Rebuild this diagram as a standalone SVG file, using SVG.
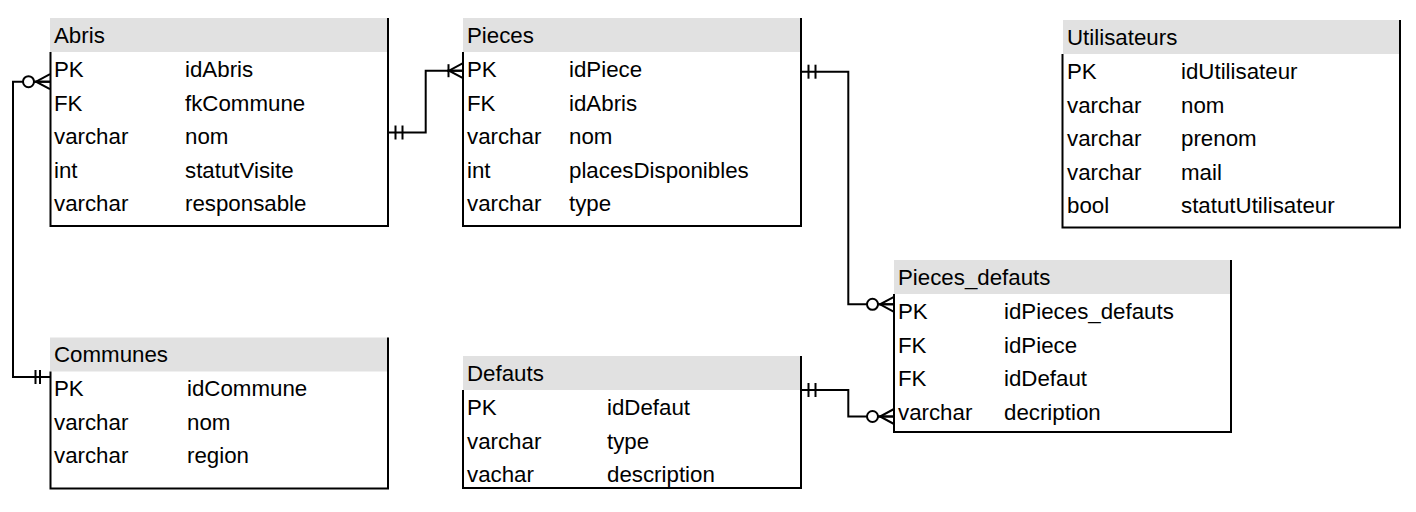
<svg xmlns="http://www.w3.org/2000/svg" xmlns:xlink="http://www.w3.org/1999/xlink" width="1416" height="512" viewBox="0 0 1416 512">
<style>
  .hdr { fill: #e1e1e1; stroke: none; }
  .border { fill: none; stroke: #000; stroke-width: 2; }
  .conn { fill: none; stroke: #000; stroke-width: 2; }
  .mk { fill: none; stroke: #000; stroke-width: 2; }
  .circ { fill: #fff; stroke: #000; stroke-width: 2; }
  text { font-family: "Liberation Sans", Arial, sans-serif; font-size: 22.3px; fill: #000; }
</style>
<defs>
  <!-- markers drawn with the entity edge at x=0, line arriving from the left -->
  <g id="zeroMany">
    <line class="mk" x1="-16" y1="0" x2="0" y2="0"/>
    <path class="mk" d="M0,-7.5 L-14,0 L0,7.5"/>
    <circle class="circ" cx="-21.5" cy="0" r="5.5"/>
  </g>
  <g id="oneMany">
    <line class="mk" x1="-16" y1="0" x2="0" y2="0"/>
    <path class="mk" d="M0,-7.5 L-14,0 L0,7.5"/>
    <line class="mk" x1="-14.5" y1="-6.5" x2="-14.5" y2="6.5"/>
  </g>
  <!-- two ticks, entity edge at x=0, line leaving to the right -->
  <g id="oneOneR">
    <line class="mk" x1="7.5" y1="-7" x2="7.5" y2="7"/>
    <line class="mk" x1="14.5" y1="-7" x2="14.5" y2="7"/>
  </g>
  <g id="oneOneL">
    <line class="mk" x1="-14.5" y1="-7" x2="-14.5" y2="7"/>
    <line class="mk" x1="-10" y1="-7" x2="-10" y2="7"/>
  </g>
</defs>

<g id="connectors">
  <!-- Abris.PK (left) to Communes.PK (left) -->
  <path class="conn" d="M50,81.7 H13 V377 H50"/>
  <use xlink:href="#zeroMany" href="#zeroMany" transform="translate(50,81.7)"/>
  <use xlink:href="#oneOneL" href="#oneOneL" transform="translate(50,377)"/>
  <!-- Abris (right) to Pieces.PK -->
  <path class="conn" d="M388,132.5 H425.7 V70.7 H463"/>
  <use xlink:href="#oneOneR" href="#oneOneR" transform="translate(388,132.5)"/>
  <use xlink:href="#oneMany" href="#oneMany" transform="translate(463,70.7)"/>
  <!-- Pieces (right) to Pieces_defauts.PK -->
  <path class="conn" d="M801,71.7 H848.3 V304.3 H894"/>
  <use xlink:href="#oneOneR" href="#oneOneR" transform="translate(801,71.7)"/>
  <use xlink:href="#zeroMany" href="#zeroMany" transform="translate(894,304.3)"/>
  <!-- Defauts (right) to Pieces_defauts.varchar -->
  <path class="conn" d="M801,390 H848.3 V416.5 H894"/>
  <use xlink:href="#oneOneR" href="#oneOneR" transform="translate(801,390)"/>
  <use xlink:href="#zeroMany" href="#zeroMany" transform="translate(894,416.5)"/>
</g>

<g id="Abris">
  <rect class="hdr" x="50" y="18" width="338" height="34"/>
  <path class="border" d="M388,18 V226 H50.5 V52"/>
  <text x="54" y="43">Abris</text>
  <text x="54" y="77">PK</text><text x="185" y="77">idAbris</text>
  <text x="54" y="110.5">FK</text><text x="185" y="110.5">fkCommune</text>
  <text x="54" y="144">varchar</text><text x="185" y="144">nom</text>
  <text x="54" y="177.5">int</text><text x="185" y="177.5">statutVisite</text>
  <text x="54" y="211">varchar</text><text x="185" y="211">responsable</text>
</g>

<g id="Pieces">
  <rect class="hdr" x="463" y="18" width="338" height="34"/>
  <path class="border" d="M801,18 V226 H463 V52"/>
  <text x="467" y="43">Pieces</text>
  <text x="467" y="77">PK</text><text x="569" y="77">idPiece</text>
  <text x="467" y="110.5">FK</text><text x="569" y="110.5">idAbris</text>
  <text x="467" y="144">varchar</text><text x="569" y="144">nom</text>
  <text x="467" y="177.5">int</text><text x="569" y="177.5">placesDisponibles</text>
  <text x="467" y="211">varchar</text><text x="569" y="211">type</text>
</g>

<g id="Utilisateurs">
  <rect class="hdr" x="1063" y="20" width="337" height="34"/>
  <path class="border" d="M1400,20 V227.5 H1062.5 V54"/>
  <text x="1067" y="45">Utilisateurs</text>
  <text x="1067" y="79">PK</text><text x="1181" y="79">idUtilisateur</text>
  <text x="1067" y="112.5">varchar</text><text x="1181" y="112.5">nom</text>
  <text x="1067" y="146">varchar</text><text x="1181" y="146">prenom</text>
  <text x="1067" y="179.5">varchar</text><text x="1181" y="179.5">mail</text>
  <text x="1067" y="213">bool</text><text x="1181" y="213">statutUtilisateur</text>
</g>

<g id="Pieces_defauts">
  <rect class="hdr" x="894" y="260" width="337" height="34"/>
  <path class="border" d="M1231,260 V432 H894 V294"/>
  <text x="898" y="285">Pieces_defauts</text>
  <text x="898" y="319">PK</text><text x="1004" y="319">idPieces_defauts</text>
  <text x="898" y="352.5">FK</text><text x="1004" y="352.5">idPiece</text>
  <text x="898" y="386">FK</text><text x="1004" y="386">idDefaut</text>
  <text x="898" y="419.5">varchar</text><text x="1004" y="419.5">decription</text>
</g>

<g id="Defauts">
  <rect class="hdr" x="463" y="356" width="338" height="34"/>
  <path class="border" d="M801,356 V488 H463 V390"/>
  <text x="467" y="381">Defauts</text>
  <text x="467" y="415">PK</text><text x="607" y="415">idDefaut</text>
  <text x="467" y="448.5">varchar</text><text x="607" y="448.5">type</text>
  <text x="467" y="482">vachar</text><text x="607" y="482">description</text>
</g>

<g id="Communes">
  <rect class="hdr" x="50" y="337.5" width="338" height="34"/>
  <path class="border" d="M388,337.5 V488.5 H50.5 V371.5"/>
  <text x="54" y="362">Communes</text>
  <text x="54" y="396">PK</text><text x="187" y="396">idCommune</text>
  <text x="54" y="429.5">varchar</text><text x="187" y="429.5">nom</text>
  <text x="54" y="463">varchar</text><text x="187" y="463">region</text>
</g>
</svg>
